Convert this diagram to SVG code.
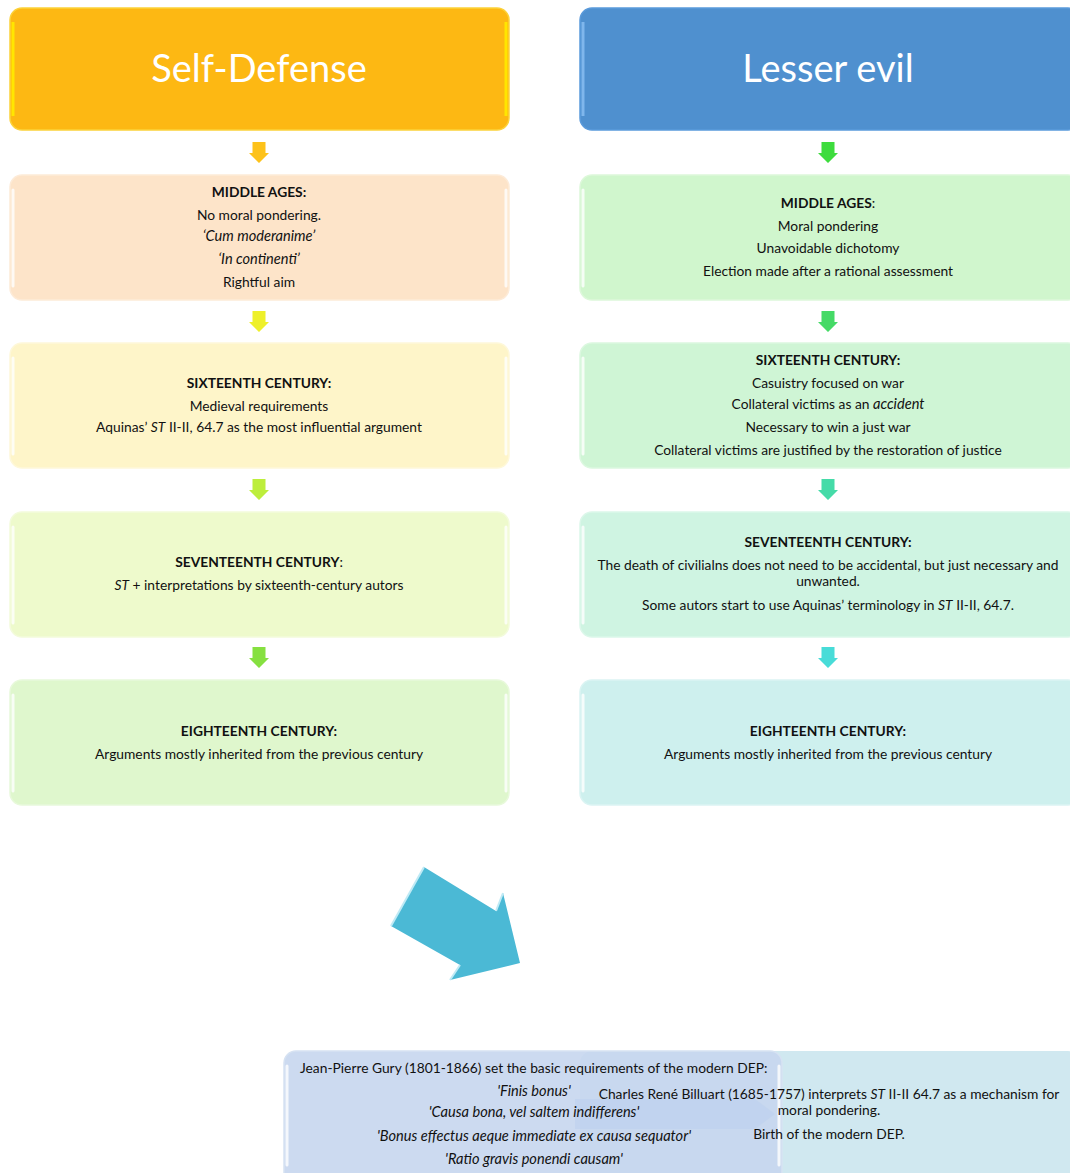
<svg xmlns="http://www.w3.org/2000/svg" width="1070" height="1173" viewBox="0 0 1070 1173">
<style>
text{font-family:Lato,"Liberation Sans",sans-serif;font-size:13.8px;fill:#111;text-anchor:middle}
.b{font-weight:bold}
.i{font-style:italic}
.it{font-size:14.6px}
.title{font-size:38px;fill:#fff}
.gloss{stroke:#fff;stroke-width:3;stroke-linecap:round;opacity:0.8}
.l{text-anchor:start}
</style>
<defs>
<path id="dn" d="M-6.5,0 H6.5 V11 H10 L0,21 L-10,11 H-6.5 Z"/>
</defs>
<rect width="1070" height="1173" fill="#fff"/>

<g id="sd-title">
<rect x="10" y="8" width="499" height="122" rx="12" fill="#FDB813" stroke="#FCD23A" stroke-width="1.5"/>
<line x1="13" y1="22" x2="13" y2="116" stroke="#FFE600" stroke-width="3"/>
<line x1="506" y1="22" x2="506" y2="116" stroke="#FFE600" stroke-width="3"/>
<text class="title" x="259" y="82">Self-Defense</text>
</g>
<g id="le-title">
<rect x="580" y="8" width="500" height="122" rx="12" fill="#4F90CF" stroke="#5A9ADB" stroke-width="1.5"/>
<line x1="583" y1="22" x2="583" y2="116" stroke="#7FB6EC" stroke-width="3"/>
<text class="title" x="828" y="82">Lesser evil</text>
</g>

<g id="sd-middle">
<rect x="10" y="175" width="499" height="125" rx="12" fill="#FDE4C9" stroke="#FDEBD8" stroke-width="1.5"/>
<line class="gloss" x1="13" y1="190" x2="13" y2="286"/><line class="gloss" x1="506" y1="190" x2="506" y2="286"/>
<text class="b" x="259" y="197">MIDDLE AGES:</text>
<text x="259" y="220">No moral pondering.</text>
<text class="i it" x="259" y="241">‘Cum moderanime’</text>
<text class="i it" x="259" y="264">‘In continenti’</text>
<text x="259" y="287">Rightful aim</text>
</g>
<g id="le-middle">
<rect x="580" y="175" width="500" height="125" rx="12" fill="#D0F6CD" stroke="#DDF8DA" stroke-width="1.5"/>
<line class="gloss" x1="583" y1="190" x2="583" y2="286"/>
<text x="828" y="208"><tspan class="b">MIDDLE AGES</tspan>:</text>
<text x="828" y="231">Moral pondering</text>
<text x="828" y="253">Unavoidable dichotomy</text>
<text x="828" y="276">Election made after a rational assessment</text>
</g>

<g id="sd-16">
<rect x="10" y="343" width="499" height="125" rx="12" fill="#FEF5C9" stroke="#FEF8DA" stroke-width="1.5"/>
<line class="gloss" x1="13" y1="358" x2="13" y2="454"/><line class="gloss" x1="506" y1="358" x2="506" y2="454"/>
<text class="b" x="259" y="388">SIXTEENTH CENTURY:</text>
<text x="259" y="411">Medieval requirements</text>
<text x="259" y="432">Aquinas’ <tspan class="i">ST</tspan> II-II, 64.7 as the most influential argument</text>
</g>
<g id="le-16">
<rect x="580" y="343" width="500" height="125" rx="12" fill="#CFF5D5" stroke="#DCF8E0" stroke-width="1.5"/>
<line class="gloss" x1="583" y1="358" x2="583" y2="454"/>
<text class="b" x="828" y="365">SIXTEENTH CENTURY:</text>
<text x="828" y="388">Casuistry focused on war</text>
<text x="828" y="409">Collateral victims as an <tspan class="i it">accident</tspan></text>
<text x="828" y="432">Necessary to win a just war</text>
<text x="828" y="455">Collateral victims are justified by the restoration of justice</text>
</g>

<g id="sd-17">
<rect x="10" y="512" width="499" height="125" rx="12" fill="#EEFACC" stroke="#F3FBDC" stroke-width="1.5"/>
<line class="gloss" x1="13" y1="527" x2="13" y2="623"/><line class="gloss" x1="506" y1="527" x2="506" y2="623"/>
<text x="259" y="567"><tspan class="b">SEVENTEENTH CENTURY</tspan>:</text>
<text x="259" y="590"><tspan class="i">ST</tspan> + interpretations by sixteenth-century autors</text>
</g>
<g id="le-17">
<rect x="580" y="512" width="500" height="125" rx="12" fill="#CFF4E2" stroke="#DCF7EA" stroke-width="1.5"/>
<line class="gloss" x1="583" y1="527" x2="583" y2="623"/>
<text class="b" x="828" y="547">SEVENTEENTH CENTURY:</text>
<text x="828" y="570">The death of civilialns does not need to be accidental, but just necessary and</text>
<text x="828" y="586">unwanted.</text>
<text x="828" y="610">Some autors start to use Aquinas’ terminology in <tspan class="i">ST</tspan> II-II, 64.7.</text>
</g>

<g id="sd-18">
<rect x="10" y="680" width="499" height="125" rx="12" fill="#DFF7CD" stroke="#E8F9DB" stroke-width="1.5"/>
<line class="gloss" x1="13" y1="695" x2="13" y2="791"/><line class="gloss" x1="506" y1="695" x2="506" y2="791"/>
<text class="b" x="259" y="736">EIGHTEENTH CENTURY:</text>
<text x="259" y="759">Arguments mostly inherited from the previous century</text>
</g>
<g id="le-18">
<rect x="580" y="680" width="500" height="125" rx="12" fill="#CEF0EE" stroke="#DBF4F3" stroke-width="1.5"/>
<line class="gloss" x1="583" y1="695" x2="583" y2="791"/>
<text class="b" x="828" y="736">EIGHTEENTH CENTURY:</text>
<text x="828" y="759">Arguments mostly inherited from the previous century</text>
</g>

<g id="connectors">
<use href="#dn" x="259" y="142" fill="#FDC21A"/>
<use href="#dn" x="259" y="311" fill="#EEF02A"/>
<use href="#dn" x="259" y="479" fill="#BDEE3C"/>
<use href="#dn" x="259" y="647" fill="#86E040"/>
<use href="#dn" x="828" y="142" fill="#3DDC3D"/>
<use href="#dn" x="828" y="311" fill="#45DA66"/>
<use href="#dn" x="828" y="479" fill="#45DBA8"/>
<use href="#dn" x="828" y="647" fill="#48DCD8"/>
<g id="big-arrow">
<polygon points="424,867 496,911 503,893 520,963 450,980 460,965 391,926" fill="#4BB9D5"/>
<polyline points="391,926 424,867" fill="none" stroke="#BFEAF5" stroke-width="2"/>
<polyline points="496,911 503,893" fill="none" stroke="#BFEAF5" stroke-width="2"/>
<polyline points="450,980 460,965" fill="none" stroke="#BFEAF5" stroke-width="2"/>
</g>
</g>

<g id="billuart-bg">
<rect x="580" y="1051" width="500" height="140" rx="12" fill="#D0E8F0"/>
</g>
<g id="gury">
<rect x="284" y="1051" width="498" height="140" rx="12" fill="#C6D6EE" fill-opacity="0.9" stroke="#D6E2F2" stroke-width="1.5"/>
<polygon points="575,1099 755,1099 775,1114 755,1129 575,1129" fill="#BCD0EE" fill-opacity="0.6"/>
<line class="gloss" x1="287" y1="1066" x2="287" y2="1165"/><line class="gloss" x1="779" y1="1066" x2="779" y2="1165"/>
<text class="l" x="300" y="1073">Jean-Pierre Gury (1801-1866) set the basic requirements of the modern DEP:</text>
<text class="i it" x="534" y="1096">'Finis bonus'</text>
<text class="i it" x="534" y="1117">'Causa bona, vel saltem indifferens'</text>
<text class="i it" x="534" y="1141">'Bonus effectus aeque immediate ex causa sequator'</text>
<text class="i it" x="534" y="1164">'Ratio gravis ponendi causam'</text>
</g>
<g id="billuart">
<text x="829" y="1099">Charles René Billuart (1685-1757) interprets <tspan class="i">ST</tspan> II-II 64.7 as a mechanism for</text>
<text x="829" y="1115">moral pondering.</text>
<text x="829" y="1139">Birth of the modern DEP.</text>
</g>
</svg>
